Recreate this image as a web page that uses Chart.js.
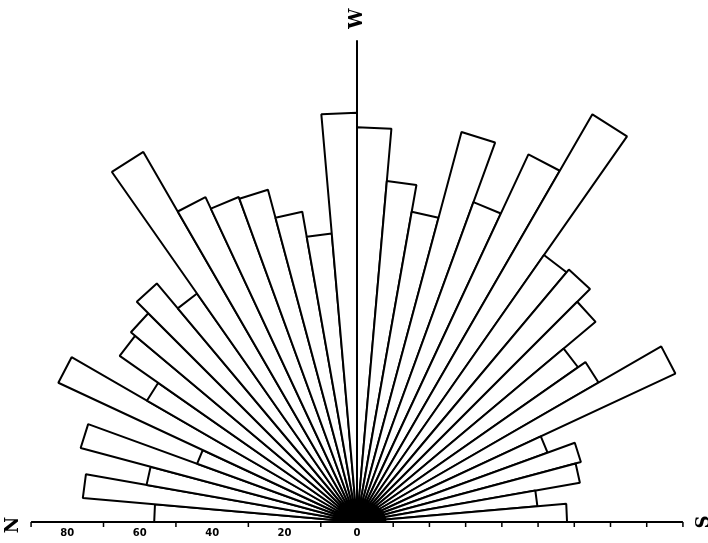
<!DOCTYPE html>
<html>
<head>
<meta charset="utf-8">
<script src="https://cdn.jsdelivr.net/npm/chart.js@4.4.0/dist/chart.umd.min.js"></script>
<style>
  html, body { margin: 0; padding: 0; background: #fff; }
  body { width: 708px; height: 543px; overflow: hidden; position: relative; }
  #rose { position: absolute; left: -173px; top: -8px; }
</style>
</head>
<body>
<canvas id="rose" width="1060" height="1060"></canvas>
<script>
// 5 degree sectors, counted from N (left) over W (top) to S (right)
const sectors = [
  "0-5", "5-10", "10-15", "15-20", "20-25", "25-30", "30-35", "35-40", "40-45",
  "45-50", "50-55", "55-60", "60-65", "65-70", "70-75", "75-80", "80-85", "85-90",
  "90-95", "95-100", "100-105", "105-110", "110-115", "115-120", "120-125", "125-130",
  "130-135", "135-140", "140-145", "145-150", "150-155", "155-160", "160-165",
  "165-170", "170-175", "175-180"
];
const counts = [
  56, 76, 59, 79, 47, 91, 67, 80, 81.5,
  86, 77, 118, 99, 95.5, 95, 87, 80, 113,
  109, 94.5, 87, 111.5, 94, 112, 130, 90,
  91, 86, 74.5, 77, 97, 56, 64,
  62.5, 50, 58
];
const scaleLabels = ["80", "60", "40", "20", "0"];
const scaleLabelValues = [80, 60, 40, 20, 0];
const leftTicks = [10, 30, 50, 70, 90];
const rightTicks = [10, 20, 30, 40, 50, 60, 70, 80, 90];
const directions = ["N", "W", "S"];

// axis line, ticks, compass letters and the inked centre
const roseAxes = {
  id: "roseAxes",
  afterDatasetsDraw(chart) {
    const r = chart.scales.r;
    const ctx = chart.ctx;
    const cx = r.xCenter;
    const cy = r.yCenter;
    const d = (v) => r.getDistanceFromCenterForValue(v);

    ctx.save();
    ctx.fillStyle = "#000";
    ctx.beginPath();
    ctx.ellipse(cx + 6, cy, d(6.5), d(5.5), 0, Math.PI, 2 * Math.PI);
    ctx.fill();

    ctx.strokeStyle = "#000";
    ctx.lineWidth = 2;
    ctx.beginPath();
    ctx.moveTo(cx - d(90), cy);
    ctx.lineTo(cx + d(90), cy);
    ctx.moveTo(cx, cy);
    ctx.lineTo(cx, cy - d(133));
    ctx.stroke();

    ctx.lineWidth = 1.5;
    ctx.beginPath();
    leftTicks.forEach((v) => { ctx.moveTo(cx - d(v), cy); ctx.lineTo(cx - d(v), cy + 5); });
    rightTicks.forEach((v) => { ctx.moveTo(cx + d(v), cy); ctx.lineTo(cx + d(v), cy + 5); });
    ctx.stroke();

    ctx.font = "bold 10px 'DejaVu Sans'";
    ctx.textAlign = "center";
    ctx.textBaseline = "middle";
    scaleLabels.forEach((t, i) => {
      ctx.fillText(t, cx - d(scaleLabelValues[i]), cy + 11);
    });

    ctx.font = "bold 18px 'DejaVu Serif'";
    const spots = [[cx - d(95), cy + 3], [cx, cy - d(139)], [cx + d(96), cy]];
    directions.forEach((t, i) => {
      ctx.save();
      ctx.translate(spots[i][0], spots[i][1]);
      ctx.rotate(-Math.PI / 2);
      ctx.fillText(t, 0, 0);
      ctx.restore();
    });
    ctx.restore();
  }
};

const config = {
  type: "polarArea",
  data: {
    labels: sectors,
    datasets: [{
      data: counts,
      angle: 5,
      circular: false,
      backgroundColor: "#ffffff",
      borderColor: "#000000",
      borderWidth: 2
    }]
  },
  options: {
    responsive: false,
    animation: false,
    events: [],
    layout: { padding: 23 },
    plugins: { legend: { display: false }, tooltip: { enabled: false } },
    scales: {
      r: { display: false, min: 0, max: 140, startAngle: -90 }
    }
  },
  plugins: [roseAxes]
};

const roseChart = new Chart(document.getElementById("rose"), config);
</script>
</body>
</html>
